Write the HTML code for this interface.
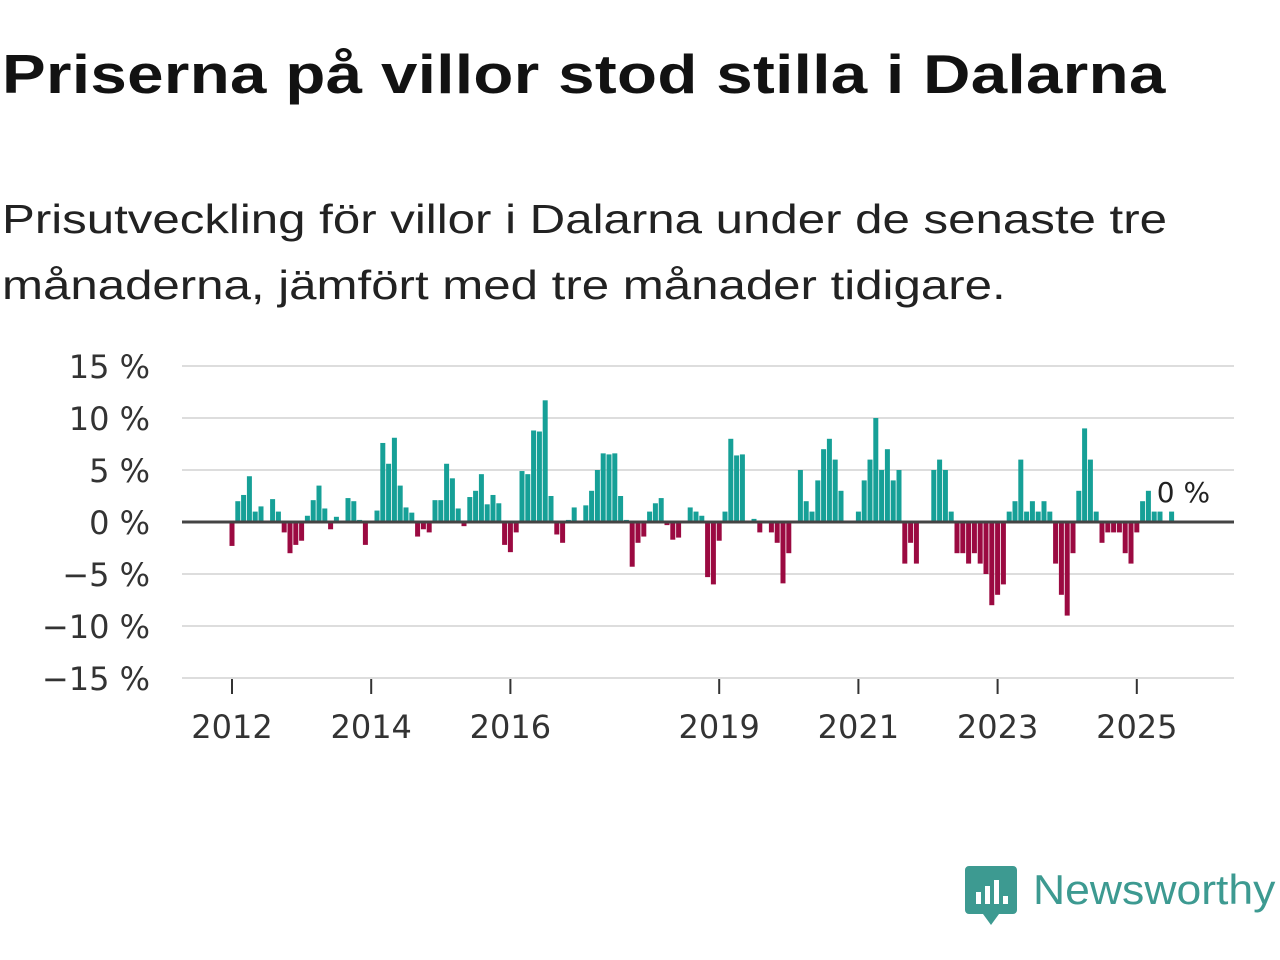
<!DOCTYPE html>
<html><head><meta charset="utf-8"><style>
body{margin:0;width:1280px;height:960px;background:#fff;font-family:"Liberation Sans",sans-serif;overflow:hidden;position:relative}
#title{position:absolute;left:2px;top:42px;font-size:55px;font-weight:bold;color:#121212;margin:0;letter-spacing:0.3px;transform:scaleX(1.19);transform-origin:0 0;white-space:nowrap}
#sub{position:absolute;left:2px;top:186px;font-size:41px;line-height:66px;color:#222;margin:0;width:1100px;transform:scaleX(1.2);transform-origin:0 0;white-space:nowrap}
</style></head><body>
<h1 id="title">Priserna på villor stod stilla i Dalarna</h1>
<p id="sub">Prisutveckling för villor i Dalarna under de senaste tre<br>månaderna, jämfört med tre månader tidigare.</p>
<svg id="chart" width="1280" height="960" style="position:absolute;left:0;top:0" font-family="DejaVu Sans, sans-serif"></svg>
<div style="position:absolute;left:965px;top:866px;">
<svg width="52" height="60"><path d="M4 0h44a4 4 0 0 1 4 4v40a4 4 0 0 1-4 4H34l-8 11-8-11H4a4 4 0 0 1-4-4V4a4 4 0 0 1 4-4z" fill="#3d9a91"/><rect x="11" y="26" width="5" height="12" fill="#fff"/><rect x="20" y="20" width="5" height="18" fill="#fff"/><rect x="29" y="14" width="5" height="24" fill="#fff"/><rect x="38" y="30" width="5" height="8" fill="#fff"/></svg>
<span style="position:absolute;left:68px;top:0px;font-size:42px;color:#3d9a91;white-space:nowrap;transform:scaleX(1.06);transform-origin:0 0;display:inline-block">Newsworthy</span>
</div>
<script>
const yTicks=[15,10,5,0,-5,-10,-15];
const yearLabels=[2012,2014,2016,2019,2021,2023,2025];
const startYear=2012;
const values=[-2.3,2.0,2.6,4.4,1.0,1.5,0,2.2,1.0,-1.0,-3.0,-2.2,-1.8,0.6,2.1,3.5,1.3,-0.7,0.5,0,2.3,2.0,0.2,-2.2,0,1.1,7.6,5.6,8.1,3.5,1.4,0.9,-1.4,-0.7,-1.0,2.1,2.1,5.6,4.2,1.3,-0.4,2.4,3.0,4.6,1.7,2.6,1.8,-2.2,-2.9,-1.0,4.9,4.6,8.8,8.7,11.7,2.5,-1.2,-2.0,0.2,1.4,0,1.6,3.0,5.0,6.6,6.5,6.6,2.5,0.2,-4.3,-2.0,-1.4,1.0,1.8,2.3,-0.3,-1.7,-1.5,0,1.4,1.0,0.6,-5.3,-6.0,-1.8,1.0,8.0,6.4,6.5,0,0.3,-1.0,0,-1.0,-2.0,-5.9,-3.0,0,5.0,2.0,1.0,4.0,7.0,8.0,6.0,3.0,0,0,1.0,4.0,6.0,10.0,5.0,7.0,4.0,5.0,-4.0,-2.0,-4.0,0,0,5.0,6.0,5.0,1.0,-3,-3,-4,-3,-4,-5,-8,-7,-6,1,2,6,1,2,1,2,1,-4,-7,-9,-3,3,9,6,1,-2,-1,-1,-1,-3,-4,-1,2,3,1,1,0,1,0];
const lastLabel="0 %";
const NS="http://www.w3.org/2000/svg";
const svg=document.getElementById('chart');
const x0=182,x1=1234;
function y(v){return 522-v*10.4;}
function xm(i){return 232+i*5.8;}
function xy(yr){return 232+(yr-startYear)*69.6;}
function mk(t,a,p){const e=document.createElementNS(NS,t);for(const k in a)e.setAttribute(k,a[k]);(p||svg).appendChild(e);return e;}
yTicks.forEach(v=>{
 const g=mk('line',{x1:x0,x2:x1,y1:y(v),y2:y(v),stroke:'#ddd','stroke-width':2});
 
 
 const t=mk('text',{x:150,y:y(v)+12,'text-anchor':'end','font-size':32,fill:'#333'});
 t.textContent=(v<0?'\u2212'+(-v):v)+' %';
 
 
});
yearLabels.forEach(yr=>{
 const l=mk('line',{x1:xy(yr),x2:xy(yr),y1:679,y2:694,stroke:'#333','stroke-width':2});
 
 
 const t=mk('text',{x:xy(yr),y:738,'text-anchor':'middle','font-size':32,fill:'#333'});
 t.textContent=yr;
 
 
});
values.forEach((v,i)=>{
 if(v===0)return;
 const b=mk('rect',{x:xm(i)-2.5,width:5,y:Math.min(y(v),522),height:Math.abs(y(v)-522),fill:v>0?'#16a097':'#9b0a41'});
 
 
});
const z=mk('line',{x1:x0,x2:x1,y1:522,y2:522,stroke:'#444','stroke-width':3});


const lt=mk('text',{x:xm(values.length-1)+6,y:y(values[values.length-1])-20,'text-anchor':'middle','font-size':28,fill:'#222'});
lt.textContent=lastLabel;


</script>
</body></html>
